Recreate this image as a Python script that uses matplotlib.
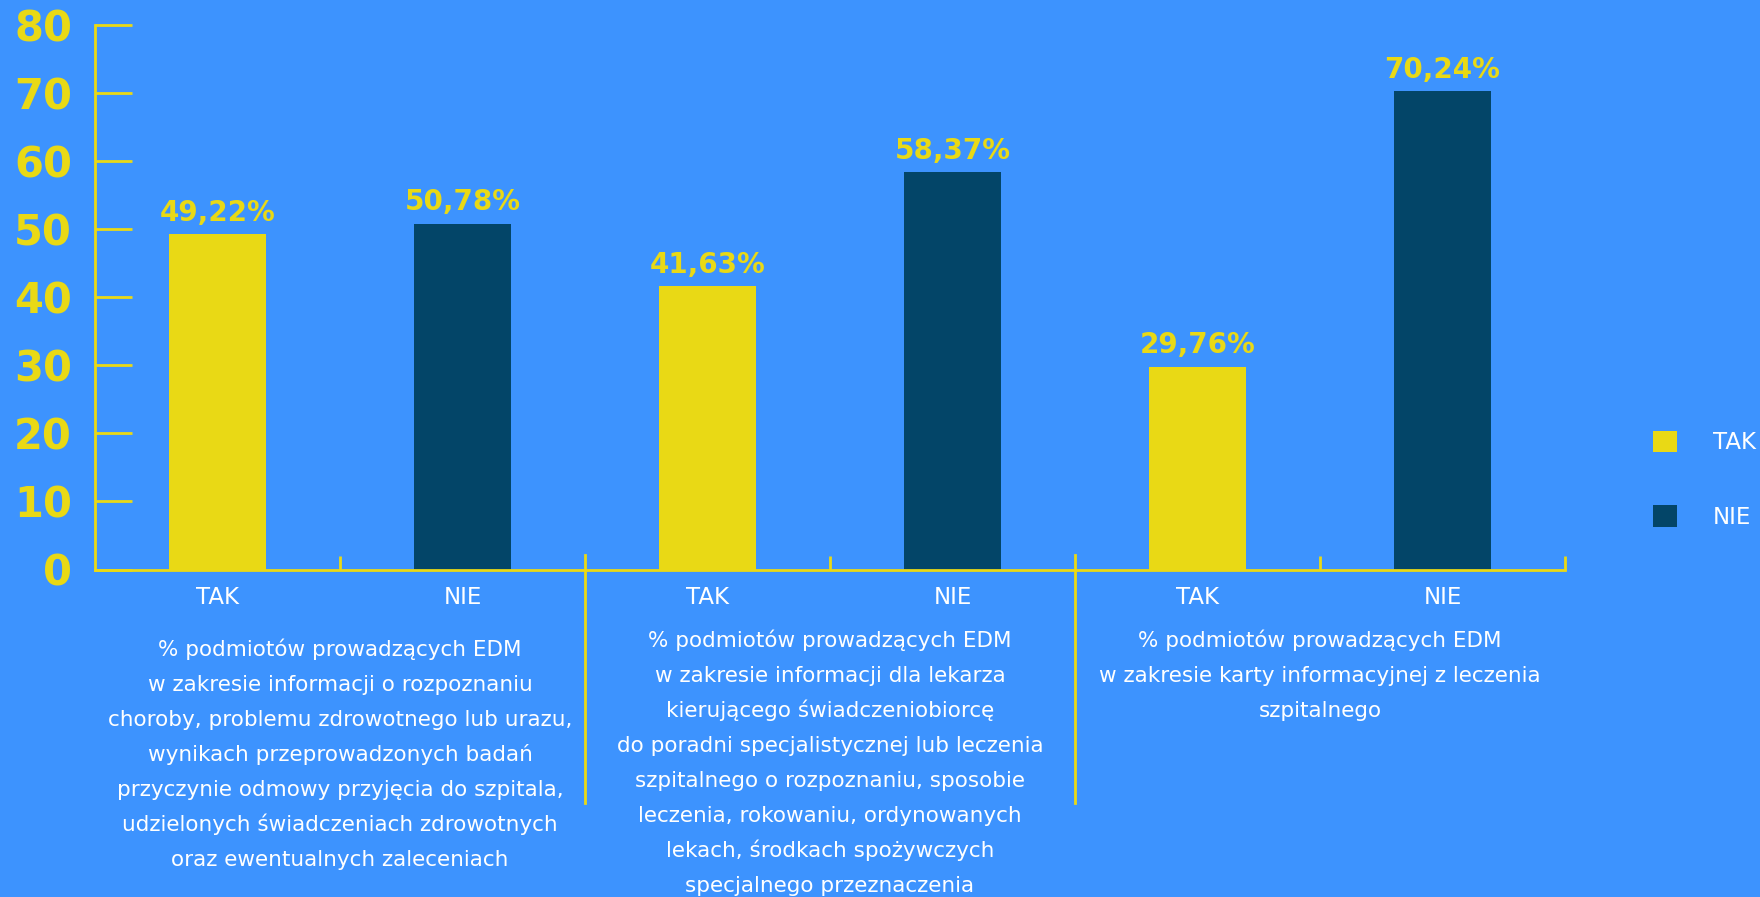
import matplotlib
matplotlib.use("Agg")
import matplotlib.pyplot as plt

# survey results: share of entities keeping EDM, per document type
answers = ["TAK", "NIE", "TAK", "NIE", "TAK", "NIE"]
values = [49.22, 50.78, 41.63, 58.37, 29.76, 70.24]
y_ticks = [0, 10, 20, 30, 40, 50, 60, 70, 80]

group_texts = [
    ["% podmiotów prowadzących EDM",
     "w zakresie informacji o rozpoznaniu",
     "choroby, problemu zdrowotnego lub urazu,",
     "wynikach przeprowadzonych badań",
     "przyczynie odmowy przyjęcia do szpitala,",
     "udzielonych świadczeniach zdrowotnych",
     "oraz ewentualnych zaleceniach"],
    ["% podmiotów prowadzących EDM",
     "w zakresie informacji dla lekarza",
     "kierującego świadczeniobiorcę",
     "do poradni specjalistycznej lub leczenia",
     "szpitalnego o rozpoznaniu, sposobie",
     "leczenia, rokowaniu, ordynowanych",
     "lekach, środkach spożywczych",
     "specjalnego przeznaczenia"],
    ["% podmiotów prowadzących EDM",
     "w zakresie karty informacyjnej z leczenia",
     "szpitalnego"],
]

BG = "#3d93fe"
YELLOW = "#e9d915"
NAVY = "#034568"
W, H = 1760, 897
LW = 2.0

fig = plt.figure(figsize=(W / 100, H / 100), dpi=100, facecolor=BG)
ax = fig.add_axes([95 / W, 1 - 569.5 / H, 1470 / W, 544.5 / H])
ax.set_facecolor(BG)

xs = [i + 0.5 for i in range(len(values))]
colors = [YELLOW if a == "TAK" else NAVY for a in answers]
bars = ax.bar(xs, values, width=0.395, color=colors, zorder=2)

labels = [f"{v:.2f}".replace(".", ",") + "%" for v in values]
ax.bar_label(bars, labels=labels, padding=5.5, color=YELLOW,
             fontsize=20, fontweight="bold")

ax.set_xlim(0, 6)
ax.set_ylim(0, 80)

for s in ["top", "right"]:
    ax.spines[s].set_visible(False)
for s in ["left", "bottom"]:
    ax.spines[s].set_color(YELLOW)
    ax.spines[s].set_linewidth(LW)

ax.set_yticks(y_ticks)
ax.tick_params(axis="y", direction="in", length=26.6, width=LW,
               color=YELLOW, labelcolor=YELLOW, labelsize=30, pad=16.5)
for t in ax.get_yticklabels():
    t.set_fontweight("bold")

# category ticks carry no mark; boundaries get small upward ticks
ax.set_xticks([])
ax.set_xticks([1, 3, 5, 6], minor=True)
ax.tick_params(axis="x", which="minor", direction="in", length=10.4,
               width=LW, color=YELLOW)

# long separators between the three groups
for gx in [2, 4]:
    ax.axvline(gx, ymin=-233.5 / 544.5, ymax=14.5 / 544.5, color=YELLOW,
               lw=LW, clip_on=False, zorder=3)

tr = ax.get_xaxis_transform()
for x, a in zip(xs, answers):
    ax.text(x, -34 / 544.5, a, transform=tr, ha="center", va="baseline",
            color="white", fontsize=16.5)

first_base = [656, 647, 647]
for g, lines in enumerate(group_texts):
    for k, line in enumerate(lines):
        yb = first_base[g] + 35 * k
        ax.text(2 * g + 1, (569.5 - yb) / 544.5, line, transform=tr,
                ha="center", va="baseline", color="white", fontsize=15.5)

# legend on the right
handles = [bars[0], bars[1]]
leg = ax.legend(handles, ["TAK", "NIE"], loc="upper left",
                bbox_to_anchor=(1653 / W, 1 - 431 / H),
                bbox_transform=fig.transFigure, frameon=False, fontsize=16.5,
                labelcolor="white", handlelength=1.05, handleheight=1.05,
                handletextpad=1.55, labelspacing=2.22, borderpad=0,
                borderaxespad=0)

fig.savefig("out.png", dpi=100, facecolor=BG)
